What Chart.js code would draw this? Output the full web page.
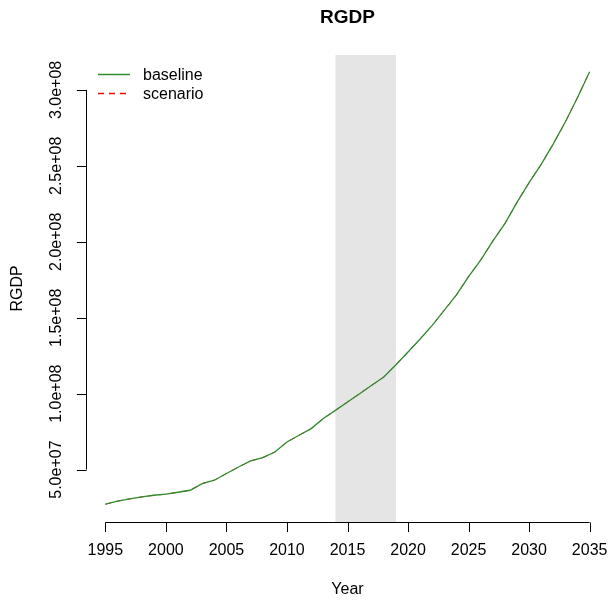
<!DOCTYPE html>
<html>
<head>
<meta charset="utf-8">
<title>RGDP</title>
<script src="https://cdn.jsdelivr.net/npm/chart.js@4/dist/chart.umd.min.js"></script>
<style>
    html, body { margin: 0; padding: 0; background: #ffffff; }
    #rgdpChart { display: block; }
</style>
</head>
<body>
<canvas id="rgdpChart" width="609" height="606"></canvas>
<script>
// Chart data
const years = [1995, 1996, 1997, 1998, 1999, 2000, 2001, 2002, 2003, 2004,
    2005, 2006, 2007, 2008, 2009, 2010, 2011, 2012, 2013, 2014,
    2015, 2016, 2017, 2018, 2019, 2020, 2021, 2022, 2023, 2024,
    2025, 2026, 2027, 2028, 2029, 2030, 2031, 2032, 2033, 2034, 2035];

const baseline = [2.72e7, 2.92e7, 3.07e7, 3.20e7, 3.31e7, 3.38e7, 3.51e7, 3.64e7, 4.08e7, 4.30e7,
    4.74e7, 5.17e7, 5.57e7, 5.79e7, 6.16e7, 6.82e7, 7.26e7, 7.70e7, 8.37e7, 8.90e7,
    9.45e7, 1.000e8, 1.055e8, 1.110e8, 1.190e8, 1.274e8, 1.360e8, 1.450e8, 1.550e8, 1.650e8,
    1.770e8, 1.880e8, 2.005e8, 2.120e8, 2.260e8, 2.390e8, 2.510e8, 2.645e8, 2.790e8, 2.950e8, 3.120e8];

const scenario = [2.72e7, 2.92e7, 3.07e7, 3.20e7, 3.31e7, 3.38e7, 3.51e7, 3.64e7, 4.08e7, 4.30e7,
    4.74e7, 5.17e7, 5.57e7, 5.79e7, 6.16e7, 6.82e7, 7.26e7, 7.70e7, 8.37e7, 8.90e7,
    9.45e7, 1.000e8, 1.055e8, 1.110e8, 1.190e8, 1.274e8, 1.360e8, 1.450e8, 1.550e8, 1.650e8,
    1.770e8, 1.880e8, 2.005e8, 2.120e8, 2.260e8, 2.390e8, 2.510e8, 2.645e8, 2.790e8, 2.950e8, 3.120e8];

const xTicks = [1995, 2000, 2005, 2010, 2015, 2020, 2025, 2030, 2035];
const yTicks = [5e7, 1e8, 1.5e8, 2e8, 2.5e8, 3e8];
const yTickLabels = ['5.0e+07', '1.0e+08', '1.5e+08', '2.0e+08', '2.5e+08', '3.0e+08'];
const shockPeriod = [2014, 2019];

const FONT = '"Liberation Sans", Arial, sans-serif';
const GREEN = '#2E8B2E';
const RED = '#FF0000';

document.addEventListener('DOMContentLoaded', function() {
    initRgdpChart();
});

/**
 * Grey band marking the shock period, drawn under the lines
 */
const shockBandPlugin = {
    id: 'shockBand',
    beforeDatasetsDraw(chart) {
        const ctx = chart.ctx;
        const area = chart.chartArea;
        const x = chart.scales.x;
        const x0 = x.getPixelForValue(shockPeriod[0]);
        const x1 = x.getPixelForValue(shockPeriod[1]);
        ctx.save();
        ctx.fillStyle = '#e5e5e5';
        ctx.fillRect(x0, area.top, x1 - x0, area.bottom - area.top);
        ctx.restore();
    }
};

/**
 * R style axes, titles and legend
 */
const baseGraphicsPlugin = {
    id: 'baseGraphics',
    afterDraw(chart) {
        const ctx = chart.ctx;
        const area = chart.chartArea;
        const x = chart.scales.x;
        const y = chart.scales.y;
        const tick = 9.6;

        ctx.save();
        ctx.strokeStyle = '#000000';
        ctx.fillStyle = '#000000';
        ctx.lineWidth = 1;

        // x axis
        const xa = Math.round(area.bottom) + 0.5;
        ctx.beginPath();
        ctx.moveTo(x.getPixelForValue(xTicks[0]), xa);
        ctx.lineTo(x.getPixelForValue(xTicks[xTicks.length - 1]), xa);
        xTicks.forEach(t => {
            const px = Math.round(x.getPixelForValue(t)) + 0.5;
            ctx.moveTo(px, xa);
            ctx.lineTo(px, xa + tick);
        });
        ctx.stroke();

        ctx.font = '16px ' + FONT;
        ctx.textAlign = 'center';
        ctx.textBaseline = 'middle';
        xTicks.forEach(t => {
            ctx.fillText(String(t), x.getPixelForValue(t), 551);
        });

        // y axis
        const ya = Math.round(area.left) + 0.5;
        ctx.beginPath();
        ctx.moveTo(ya, y.getPixelForValue(yTicks[0]));
        ctx.lineTo(ya, y.getPixelForValue(yTicks[yTicks.length - 1]));
        yTicks.forEach(t => {
            const py = Math.round(y.getPixelForValue(t)) + 0.5;
            ctx.moveTo(ya, py);
            ctx.lineTo(ya - tick, py);
        });
        ctx.stroke();

        yTicks.forEach((t, i) => {
            ctx.save();
            ctx.translate(57, y.getPixelForValue(t));
            ctx.rotate(-Math.PI / 2);
            ctx.fillText(yTickLabels[i], 0, 0);
            ctx.restore();
        });

        // axis titles
        const midX = (area.left + area.right) / 2;
        ctx.fillText('Year', midX, 590);
        ctx.save();
        ctx.translate(18, (area.top + area.bottom) / 2);
        ctx.rotate(-Math.PI / 2);
        ctx.fillText('RGDP', 0, 0);
        ctx.restore();

        // main title
        ctx.font = 'bold 19px ' + FONT;
        ctx.fillText('RGDP', midX, 18);

        // legend
        ctx.font = '16px ' + FONT;
        ctx.textAlign = 'left';
        ctx.lineWidth = 1.5;
        ctx.strokeStyle = GREEN;
        ctx.beginPath();
        ctx.moveTo(98, 74.5);
        ctx.lineTo(130, 74.5);
        ctx.stroke();
        ctx.strokeStyle = RED;
        ctx.setLineDash([6, 5]);
        ctx.beginPath();
        ctx.moveTo(98, 93.5);
        ctx.lineTo(130, 93.5);
        ctx.stroke();
        ctx.setLineDash([]);
        ctx.fillText('baseline', 143, 76);
        ctx.fillText('scenario', 143, 95);

        ctx.restore();
    }
};

/**
 * Initialize the RGDP line chart
 */
function initRgdpChart() {
    const chartEl = document.getElementById('rgdpChart');
    if (!chartEl) {
        return;
    }

    const toPoints = values => years.map((yr, i) => ({ x: yr, y: values[i] }));

    new Chart(chartEl.getContext('2d'), {
        type: 'line',
        data: {
            datasets: [
                {
                    label: 'scenario',
                    data: toPoints(scenario),
                    borderColor: RED,
                    borderWidth: 1,
                    borderDash: [6, 5],
                    pointRadius: 0,
                    tension: 0,
                    order: 2
                },
                {
                    label: 'baseline',
                    data: toPoints(baseline),
                    borderColor: GREEN,
                    borderWidth: 1.3,
                    pointRadius: 0,
                    tension: 0,
                    order: 1
                }
            ]
        },
        options: {
            responsive: false,
            animation: false,
            devicePixelRatio: 1,
            layout: {
                padding: { left: 86, top: 55, right: 0, bottom: 84 }
            },
            scales: {
                x: { type: 'linear', min: 1993.4, max: 2036.6, display: false },
                y: { type: 'linear', min: 1.55e7, max: 3.23e8, display: false }
            },
            plugins: {
                legend: { display: false },
                title: { display: false },
                tooltip: { enabled: false }
            }
        },
        plugins: [shockBandPlugin, baseGraphicsPlugin]
    });
}
</script>
</body>
</html>
